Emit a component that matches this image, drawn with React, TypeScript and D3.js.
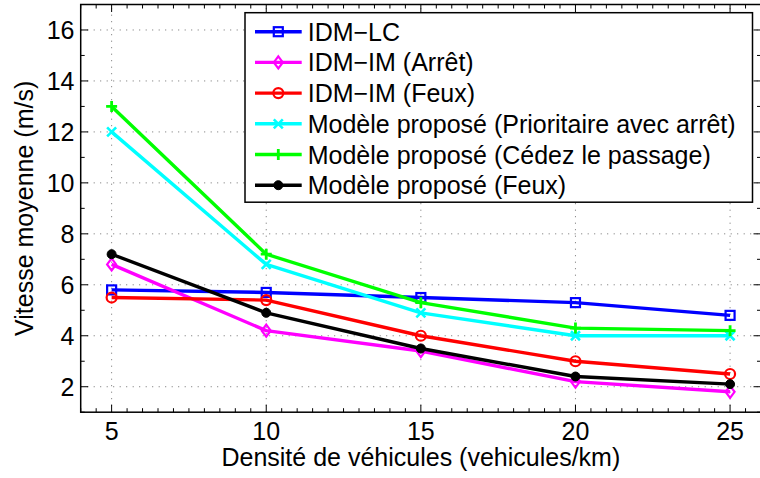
import React from "react";
import * as d3 from "d3";

const densities = [5, 10, 15, 20, 25];
const idmLC = [5.8, 5.7, 5.5, 5.3, 4.8];
const idmImArret = [6.8, 4.2, 3.4, 2.2, 1.8];
const idmImFeux = [5.5, 5.4, 4.0, 3.0, 2.5];
const propPrioritaire = [12.0, 6.8, 4.9, 4.0, 4.0];
const propCedez = [13.0, 7.2, 5.3, 4.3, 4.2];
const propFeux = [7.2, 4.9, 3.5, 2.4, 2.1];

const seriesNames = [
  "IDM\u2212LC",
  "IDM\u2212IM (Arrêt)",
  "IDM\u2212IM (Feux)",
  "Modèle proposé (Prioritaire avec arrêt)",
  "Modèle proposé (Cédez le passage)",
  "Modèle proposé (Feux)",
];
const seriesValues = [idmLC, idmImArret, idmImFeux, propPrioritaire, propCedez, propFeux];
const seriesColors = ["#0000ff", "#ff00ff", "#ff0000", "#00ffff", "#00ff00", "#000000"];
const seriesMarkers = ["square", "diamond", "circle", "x", "plus", "dot"];

const xTicks = [5, 10, 15, 20, 25];
const yTicks = [2, 4, 6, 8, 10, 12, 14, 16];
const xLabel = "Densité de véhicules (vehicules/km)";
const yLabel = "Vitesse moyenne (m/s)";

const W = 760;
const H = 478;
const FONT = "'Liberation Sans', Arial, Helvetica, sans-serif";
const FS = 25;

function Marker({ type, x, y, color }: { type: string; x: number; y: number; color: string }) {
  const sw = 2.2;
  if (type === "square") {
    return <rect x={x - 4.5} y={y - 4.5} width={9} height={9} fill="none" stroke={color} strokeWidth={sw} />;
  }
  if (type === "diamond") {
    return (
      <path
        d={`M${x},${y - 6}L${x + 4.5},${y}L${x},${y + 6}L${x - 4.5},${y}Z`}
        fill="none"
        stroke={color}
        strokeWidth={sw}
      />
    );
  }
  if (type === "circle") {
    return <circle cx={x} cy={y} r={5} fill="none" stroke={color} strokeWidth={sw} />;
  }
  if (type === "x") {
    const s = 4.5;
    return (
      <path
        d={`M${x - s},${y - s}L${x + s},${y + s}M${x - s},${y + s}L${x + s},${y - s}`}
        stroke={color}
        strokeWidth={sw + 0.4}
      />
    );
  }
  if (type === "plus") {
    const s = 5.5;
    return <path d={`M${x - s},${y}L${x + s},${y}M${x},${y - s}L${x},${y + s}`} stroke={color} strokeWidth={sw + 0.6} />;
  }
  return <circle cx={x} cy={y} r={4.5} fill={color} stroke={color} strokeWidth={1} />;
}

export default function App() {
  const left = 80.7;
  const right = 761;
  const top = 4.5;
  const bottom = 412.2;
  const x = d3.scaleLinear().domain([4, 26]).range([left, right]);
  const y = d3.scaleLinear().domain([1, 17]).range([bottom, top]);

  const line = d3
    .line<number>()
    .x((_, i) => x(densities[i]))
    .y((d) => y(d));

  const xMinor = d3.range(4, 26.01, 0.5).filter((v) => !xTicks.includes(v));
  const yMinor = d3.range(1, 17.01, 1).filter((v) => !yTicks.includes(v));

  const majorLen = 7.5;
  const minorLen = 4;

  const legX = 245;
  const legY = 12.7;
  const legW = 507.5;
  const legH = 189.5;
  const rowY0 = 31.7;
  const rowStep = 30.7;

  return (
    <svg
      width={W}
      height={H}
      style={{ position: "fixed", left: 0, top: 0, background: "#fff" }}
      fontFamily={FONT}
    >
      <rect x={0} y={0} width={W} height={H} fill="#fff" />
      {/* grid */}
      <g stroke="#000" strokeWidth={0.8} strokeDasharray="1,5.5" opacity={0.7}>
        {xTicks.map((t) => (
          <line key={"gx" + t} x1={x(t)} x2={x(t)} y1={bottom} y2={top} />
        ))}
        {yTicks.map((t) => (
          <line key={"gy" + t} x1={left} x2={right} y1={y(t)} y2={y(t)} />
        ))}
      </g>
      {/* ticks */}
      <g stroke="#000" strokeWidth={1}>
        {xTicks.map((t) => (
          <g key={"xt" + t}>
            <line x1={x(t)} x2={x(t)} y1={bottom} y2={bottom - majorLen} />
            <line x1={x(t)} x2={x(t)} y1={top} y2={top + majorLen} />
          </g>
        ))}
        {xMinor.map((t) => (
          <g key={"xm" + t}>
            <line x1={x(t)} x2={x(t)} y1={bottom} y2={bottom - minorLen} />
            <line x1={x(t)} x2={x(t)} y1={top} y2={top + minorLen} />
          </g>
        ))}
        {yTicks.map((t) => (
          <g key={"yt" + t}>
            <line x1={left} x2={left + majorLen} y1={y(t)} y2={y(t)} />
            <line x1={right} x2={right - majorLen} y1={y(t)} y2={y(t)} />
          </g>
        ))}
        {yMinor.map((t) => (
          <g key={"ym" + t}>
            <line x1={left} x2={left + minorLen} y1={y(t)} y2={y(t)} />
            <line x1={right} x2={right - minorLen} y1={y(t)} y2={y(t)} />
          </g>
        ))}
      </g>
      {/* series */}
      {seriesValues.map((vals, si) => (
        <g key={"s" + si}>
          <path d={line(vals) || ""} fill="none" stroke={seriesColors[si]} strokeWidth={3.4} strokeLinejoin="round" />
          {vals.map((v, i) => (
            <Marker key={i} type={seriesMarkers[si]} x={x(densities[i])} y={y(v)} color={seriesColors[si]} />
          ))}
        </g>
      ))}
      {/* axes box */}
      <rect x={left} y={top} width={right - left} height={bottom - top} fill="none" stroke="#000" strokeWidth={1.5} />
      {/* tick labels */}
      <g fontSize={FS} fill="#000">
        {xTicks.map((t) => (
          <text key={"xl" + t} x={x(t)} y={440} textAnchor="middle">
            {t}
          </text>
        ))}
        {yTicks.map((t) => (
          <text key={"yl" + t} x={74.5} y={y(t) + 9} textAnchor="end">
            {t}
          </text>
        ))}
      </g>
      <text x={(left + right) / 2} y={466} textAnchor="middle" fontSize={FS} fill="#000">
        {xLabel}
      </text>
      <text
        transform={`translate(33,${(top + bottom) / 2}) rotate(-90)`}
        textAnchor="middle"
        fontSize={FS}
        fill="#000"
      >
        {yLabel}
      </text>
      {/* legend */}
      <rect x={legX} y={legY} width={legW} height={legH} fill="#fff" stroke="#000" strokeWidth={1.5} />
      {seriesNames.map((name, i) => {
        const ry = rowY0 + i * rowStep;
        return (
          <g key={"lg" + i}>
            <line x1={255} x2={301.7} y1={ry} y2={ry} stroke={seriesColors[i]} strokeWidth={3.4} />
            <Marker type={seriesMarkers[i]} x={278.3} y={ry} color={seriesColors[i]} />
            <text x={307.7} y={ry + 9} fontSize={FS} fill="#000">
              {name}
            </text>
          </g>
        );
      })}
    </svg>
  );
}
